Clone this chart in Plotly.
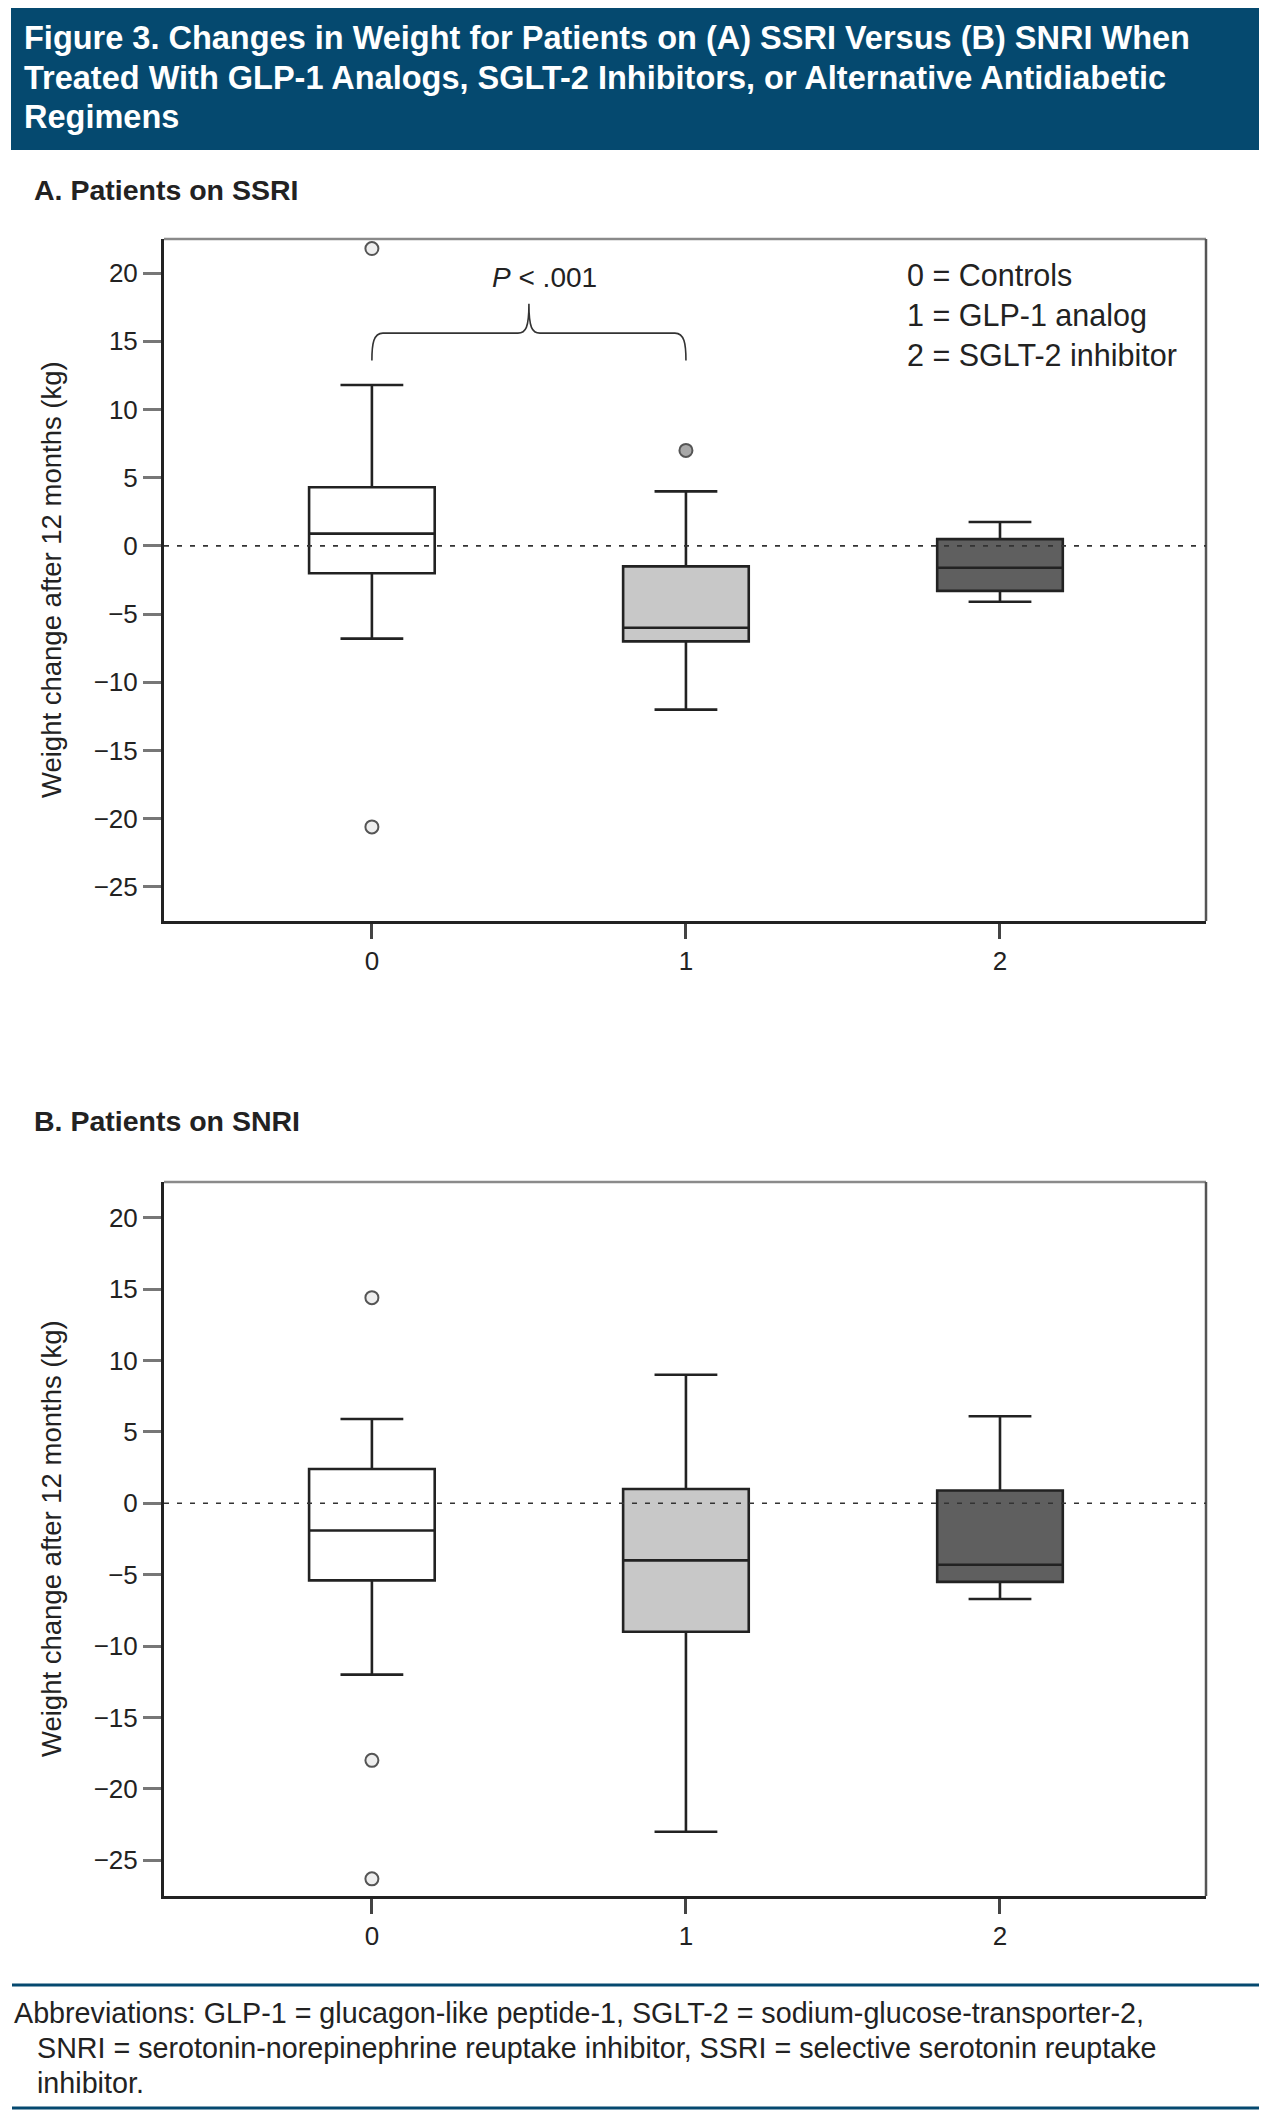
import plotly.graph_objects as go

# ---------------- data ----------------
categories = [0, 1, 2]
category_labels = ["0", "1", "2"]
y_tick_vals = [-25, -20, -15, -10, -5, 0, 5, 10, 15, 20]

# Panel A: SSRI
ssri_lower = [-6.8, -12.0, -4.1]
ssri_q1 = [-2.0, -7.0, -3.3]
ssri_median = [0.9, -6.0, -1.6]
ssri_q3 = [4.3, -1.5, 0.5]
ssri_upper = [11.8, 4.0, 1.75]
ssri_outlier_x = [0, 0, 1]
ssri_outlier_y = [21.8, -20.6, 7.0]

# Panel B: SNRI
snri_lower = [-12.0, -23.0, -6.7]
snri_q1 = [-5.4, -9.0, -5.5]
snri_median = [-1.9, -4.0, -4.3]
snri_q3 = [2.4, 1.0, 0.9]
snri_upper = [5.9, 9.0, 6.1]
snri_outlier_x = [0, 0, 0]
snri_outlier_y = [14.4, -18.0, -26.3]

box_fills = ["#ffffff", "#c8c8c8", "#5f5f5f"]
outlier_fills = {0: "#eeeeee", 1: "#a8a8a8", 2: "#5f5f5f"}

legend_lines = ["0 = Controls", "1 = GLP-1 analog", "2 = SGLT-2 inhibitor"]
p_text = "<i>P</i> < .001"
brace_from, brace_to = 0, 1
brace_base, brace_bar, brace_tip = 13.6, 15.6, 17.75

title_lines = [
    "Figure 3. Changes in Weight for Patients on (A) SSRI Versus (B) SNRI When",
    "Treated With GLP-1 Analogs, SGLT-2 Inhibitors, or Alternative Antidiabetic",
    "Regimens",
]
footer_lines = [
    "Abbreviations: GLP-1 = glucagon-like peptide-1, SGLT-2 = sodium-glucose-transporter-2,",
    "SNRI = serotonin-norepinephrine reuptake inhibitor, SSRI = selective serotonin reuptake",
    "inhibitor.",
]
panel_titles = ["A. Patients on SSRI", "B. Patients on SNRI"]
y_title = "Weight change after 12 months (kg)"

# ---------------- layout geometry ----------------
OFF = 8                      # page body margin
W, H = 1273 - 2 * OFF, 2118 - 2 * OFF
FONT = "Liberation Sans, Arial, sans-serif"
BLUE = "#05496f"


def py(px):
    return 1 - (px - OFF) / H


def pxx(px):
    return (px - OFF) / W


x_dom = [pxx(164), pxx(1206)]
yA_dom = [py(921), py(239)]
yB_dom = [py(1896), py(1182)]
x_range = [-0.662, 2.656]
y_range = [-27.5, 22.5]

fig = go.Figure()


def add_panel(xa, ya, lower, q1, med, q3, upper, ox, oy):
    for i, c in enumerate(categories):
        fig.add_trace(go.Box(
            x=[c], q1=[q1[i]], median=[med[i]], q3=[q3[i]],
            lowerfence=[lower[i]], upperfence=[upper[i]],
            width=0.4, whiskerwidth=0.5,
            fillcolor=box_fills[i],
            line=dict(color="#222222", width=2.6),
            boxpoints=False, showlegend=False, hoverinfo="skip",
            xaxis=xa, yaxis=ya,
        ))
    fig.add_trace(go.Scatter(
        x=ox, y=oy, mode="markers", showlegend=False, hoverinfo="skip",
        marker=dict(symbol="circle", size=13,
                    color=[outlier_fills[c] for c in ox],
                    line=dict(color="#555555", width=2)),
        xaxis=xa, yaxis=ya,
    ))


add_panel("x", "y", ssri_lower, ssri_q1, ssri_median, ssri_q3, ssri_upper,
          ssri_outlier_x, ssri_outlier_y)
add_panel("x2", "y2", snri_lower, snri_q1, snri_median, snri_q3, snri_upper,
          snri_outlier_x, snri_outlier_y)

axis_font = dict(family=FONT, size=26, color="#222222")
xcommon = dict(range=x_range, domain=x_dom, tickmode="array",
               tickvals=categories, ticktext=category_labels,
               ticks="outside", ticklen=15, tickwidth=3, tickcolor="#444444",
               showline=True, linecolor="#222222", linewidth=3,
               showgrid=False, zeroline=False, tickfont=axis_font, fixedrange=True)
ycommon = dict(range=y_range, tickmode="array", tickvals=y_tick_vals,
               ticks="outside", ticklen=18, tickwidth=2.5, tickcolor="#777777",
               showline=True, linecolor="#222222", linewidth=3,
               showgrid=False, zeroline=False, tickfont=axis_font, fixedrange=True)

fig.update_layout(
    width=W, height=H,
    margin=dict(l=0, r=0, t=0, b=0),
    paper_bgcolor="white", plot_bgcolor="white",
    xaxis=dict(**xcommon, anchor="y"),
    yaxis=dict(**ycommon, domain=yA_dom, anchor="x"),
    xaxis2=dict(**xcommon, anchor="y2"),
    yaxis2=dict(**ycommon, domain=yB_dom, anchor="x2"),
    showlegend=False,
)

shapes = []
# header band
shapes.append(dict(type="rect", xref="paper", yref="paper",
                   x0=pxx(11), x1=pxx(1259), y0=py(150), y1=py(OFF),
                   fillcolor=BLUE, line=dict(width=0), layer="below"))
# footer rules
for yy in (1985, 2108):
    shapes.append(dict(type="line", xref="paper", yref="paper",
                       x0=pxx(12), x1=pxx(1259), y0=py(yy), y1=py(yy),
                       line=dict(color=BLUE, width=3)))
# frames (top / right) and zero dashed lines
for xa, ya in (("x", "y"), ("x2", "y2")):
    shapes.append(dict(type="line", xref=f"{xa} domain", yref=f"{ya} domain",
                       x0=0, x1=1, y0=1, y1=1, line=dict(color="#8a8a8a", width=2.5)))
    shapes.append(dict(type="line", xref=f"{xa} domain", yref=f"{ya} domain",
                       x0=1, x1=1, y0=0, y1=1, line=dict(color="#555555", width=2.5)))
    shapes.append(dict(type="line", xref=f"{xa} domain", yref=ya,
                       x0=0, x1=1, y0=0, y1=0, layer="above",
                       line=dict(color="#333333", width=1.6, dash="5px,8px")))

# brace between groups 0 and 1 (panel A)
mid = (brace_from + brace_to) / 2
span = brace_to - brace_from
e = 0.035 * span
path = (f"M {brace_from},{brace_base} "
        f"C {brace_from},{brace_bar - 0.8} {brace_from + 0.005},{brace_bar} {brace_from + e},{brace_bar} "
        f"L {mid - e},{brace_bar} "
        f"C {mid - 0.01},{brace_bar} {mid},{brace_bar + 0.4} {mid},{brace_tip} "
        f"C {mid},{brace_bar + 0.4} {mid + 0.01},{brace_bar} {mid + e},{brace_bar} "
        f"L {brace_to - e},{brace_bar} "
        f"C {brace_to - 0.005},{brace_bar} {brace_to},{brace_bar - 0.8} {brace_to},{brace_base}")
shapes.append(dict(type="path", xref="x", yref="y", path=path,
                   line=dict(color="#333333", width=1.6)))
fig.update_layout(shapes=shapes)

ann = []
# header text
for i, t in enumerate(title_lines):
    ann.append(dict(text=t, xref="paper", yref="paper", x=pxx(22), y=py(38 + 39.5 * i),
                    xanchor="left", yanchor="middle", showarrow=False,
                    font=dict(family=FONT, size=32.5, color="white", weight="bold")))
# panel titles
for t, yy in zip(panel_titles, (190, 1121)):
    ann.append(dict(text=t, xref="paper", yref="paper", x=pxx(32), y=py(yy),
                    xanchor="left", yanchor="middle", showarrow=False,
                    font=dict(family=FONT, size=28.5, color="#222222", weight="bold")))
# y-axis titles
for yc in ((239 + 921) / 2, (1182 + 1896) / 2):
    ann.append(dict(text=y_title, xref="paper", yref="paper", x=pxx(51), y=py(yc),
                    xanchor="center", yanchor="middle", textangle=-90, showarrow=False,
                    font=dict(family=FONT, size=27.5, color="#222222")))
# legend text (panel A)
for i, t in enumerate(legend_lines):
    ann.append(dict(text=t, xref="paper", yref="paper", x=pxx(905), y=py(275 + 40 * i),
                    xanchor="left", yanchor="middle", showarrow=False,
                    font=dict(family=FONT, size=30.5, color="#222222")))
# p-value
ann.append(dict(text=p_text, xref="x", yref="y", x=0.55, y=19.7,
                xanchor="center", yanchor="middle", showarrow=False,
                font=dict(family=FONT, size=28, color="#222222")))
# footer
for i, t in enumerate(footer_lines):
    ann.append(dict(text=t, xref="paper", yref="paper",
                    x=pxx(12 if i == 0 else 35), y=py(2013 + 35 * i),
                    xanchor="left", yanchor="middle", showarrow=False,
                    font=dict(family=FONT, size=28.7, color="#222222")))
fig.update_layout(annotations=ann)

fig.write_html("out.html")
